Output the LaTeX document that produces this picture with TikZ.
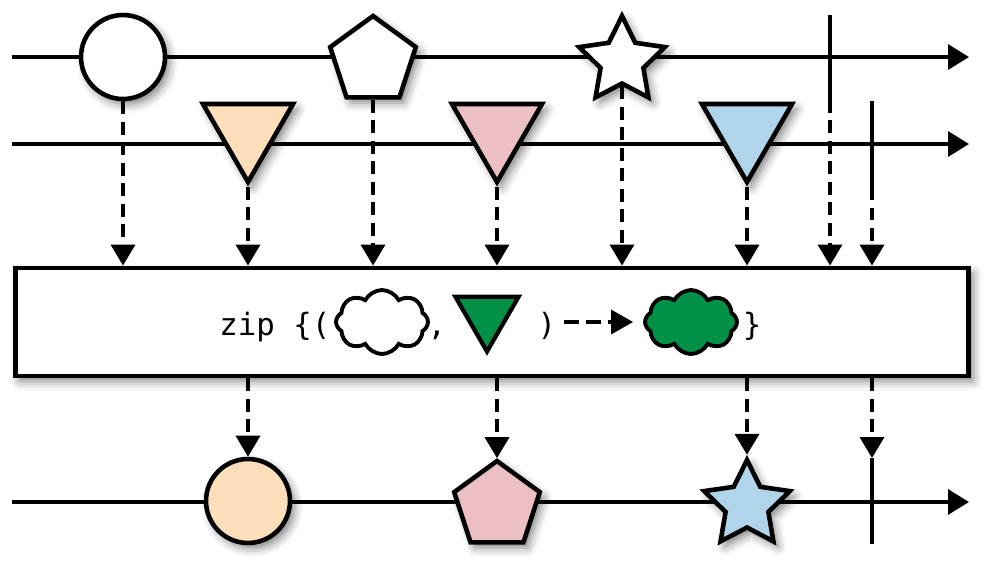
\documentclass[tikz,border=0pt]{standalone}
\usepackage{fontspec}
\newfontfamily\zipmono{DejaVu Sans Mono}
\usetikzlibrary{shapes,arrows.meta,shadows.blur,positioning}
\definecolor{peach}{RGB}{253,222,187}
\definecolor{rose}{RGB}{235,191,195}
\definecolor{sky}{RGB}{176,212,234}
\definecolor{zipgreen}{RGB}{0,145,70}

\tikzset{
	timeline/.style={line width=2pt, -{Triangle[length=0.42cm,width=0.5cm]}},
	tickline/.style={line width=2pt},
	feed/.style={line width=2.1pt, dash pattern=on 0.26cm off 0.15cm,
		-{Triangle[length=0.42cm,width=0.48cm]}},
	soft/.style={blur shadow={shadow xshift=2.5pt, shadow yshift=-3pt,
		shadow blur radius=5pt, shadow opacity=50}},
	marble/.style={draw, line width=2.6pt, inner sep=0pt, soft},
	ball/.style={marble, circle, minimum size=1.68cm},
	penta/.style={marble, regular polygon, regular polygon sides=5, minimum size=1.8cm},
	starry/.style={marble, star, star points=5, star point ratio=2, minimum size=1.8cm},
	wedge/.style={marble, regular polygon, regular polygon sides=3,
		shape border rotate=180, minimum size=2.08cm},
	puff/.style={draw, line width=2.2pt, cloud, cloud puffs=8, cloud puff arc=125,
		cloud ignores aspect, inner sep=0pt, minimum width=1.84cm, minimum height=1.28cm},
	code/.style={inner sep=0pt, font=\zipmono\fontsize{17.5}{20}\selectfont}
}

\begin{document}
\begin{tikzpicture}[x=0.02cm, y=-0.02cm]
	\useasboundingbox (0,0) rectangle (995,572);

	% timelines
	\coordinate (topin) at (12,57);
	\coordinate (topout) at (969,57);
	\coordinate (midin) at (12,144);
	\coordinate (midout) at (969,144);
	\coordinate (lowin) at (12,502);
	\coordinate (lowout) at (969,502);

	\draw[timeline] (topin) -- (topout);
	\draw[timeline] (midin) -- (midout);
	\draw[timeline] (lowin) -- (lowout);

	% completions
	\coordinate (topendA) at (830,15);
	\coordinate (topendB) at (830,100);
	\coordinate (midendA) at (872,101);
	\coordinate (midendB) at (872,187);
	\coordinate (lowendA) at (872,458);
	\coordinate (lowendB) at (872,544);

	\draw[tickline] (topendA) -- (topendB);
	\draw[tickline] (midendA) -- (midendB);
	\draw[tickline] (lowendA) -- (lowendB);

	% the zip box
	\node[draw,
		fill=white,
		line width=2.8pt,
		soft,
		minimum width=19.08cm,
		minimum height=2.16cm
	] (zipbox) at (492,322) {};

	% first source
	\node[ball, fill=white] (circ) at (123,57) {};
	\node[penta, fill=white] (pent) at (373,61) {};
	\node[starry, fill=white] (star) at (622,61) {};

	% second source
	\node[wedge, fill=peach] (tria) at (248,130) {};
	\node[wedge, fill=rose] (trib) at (497,130) {};
	\node[wedge, fill=sky] (tric) at (747,130) {};

	% result
	\node[ball, fill=peach] (outcirc) at (248,501) {};
	\node[penta, fill=rose] (outpent) at (497,506) {};
	\node[starry, fill=sky] (outstar) at (747,505) {};

	\draw[feed] (circ.south) -- (circ.south |- zipbox.north);
	\draw[feed] (pent.south) -- (pent.south |- zipbox.north);
	\draw[feed] (star.south) -- (star.south |- zipbox.north);
	\draw[feed] (tria.south) -- (tria.south |- zipbox.north);
	\draw[feed] (trib.south) -- (trib.south |- zipbox.north);
	\draw[feed] (tric.south) -- (tric.south |- zipbox.north);
	\draw[feed] (topendB) -- (topendB |- zipbox.north);
	\draw[feed] (midendB) -- (midendB |- zipbox.north);

	\draw[feed] (zipbox.south -| outcirc) -- (outcirc.north);
	\draw[feed] (zipbox.south -| outpent) -- (outpent.north);
	\draw[feed] (zipbox.south -| outstar) -- (outstar.north);
	\draw[feed] (zipbox.south -| lowendA) -- (lowendA);

	% box label
	\node[code, anchor=base west] (zipword) at (219,335) {zip \{(};
	\node[puff, fill=white] (cloudin) at (382,322) {};
	\node[code, anchor=base] (comma) at (437,335) {,};
	\node[draw, line width=2.4pt, fill=zipgreen, inner sep=0pt,
		regular polygon, regular polygon sides=3, shape border rotate=180,
		minimum size=1.46cm
	] (trigreen) at (487,315) {};
	\node[code, anchor=base] (rpar) at (547,335) {)};
	\node[puff, fill=zipgreen] (cloudout) at (691,322) {};
	\node[code, anchor=base] (rbrace) at (752,335) {\}};

	\draw[line width=2pt, dash pattern=on 0.3cm off 0.14cm,
		-{Triangle[length=0.44cm,width=0.48cm]},
		shorten <=0.14cm, shorten >=0.2cm
	] (rpar.east |- cloudout.west) -- (cloudout.west);

\end{tikzpicture}
\end{document}
